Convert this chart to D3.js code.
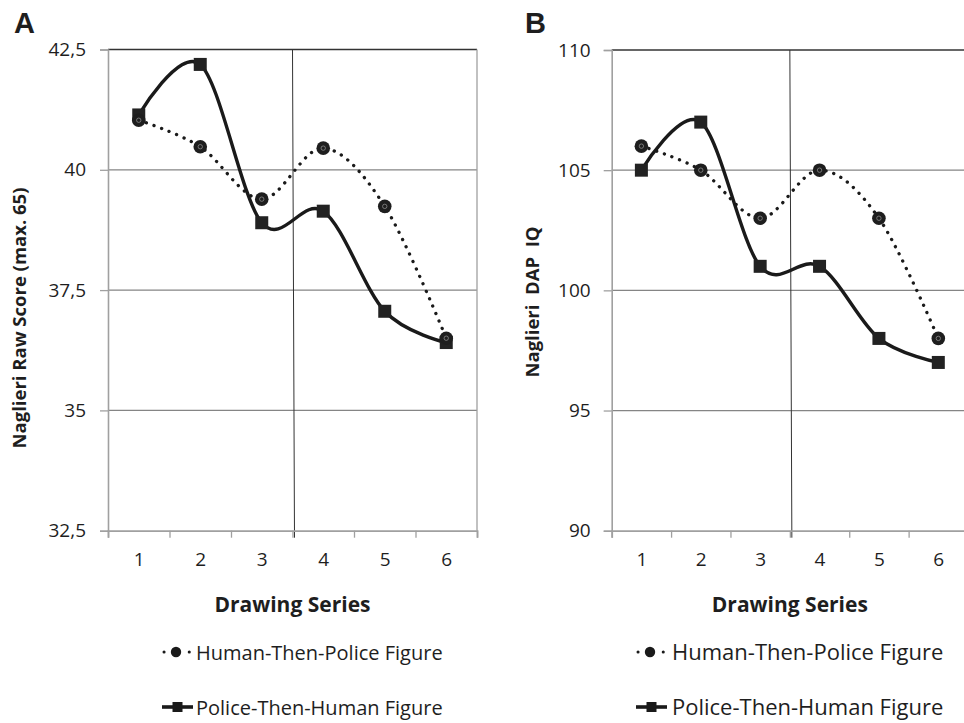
<!DOCTYPE html>
<html>
<head>
<meta charset="utf-8">
<script src="https://cdn.jsdelivr.net/npm/d3@7"></script>
<style>
  html, body { margin: 0; padding: 0; background: #fff; }
  svg { display: block; }
  text { font-family: "Open Sans", "Noto Sans", sans-serif; fill: #1e1e1e; }
</style>
</head>
<body>
<svg id="chart" width="964" height="723"></svg>
<script>
// ---------------- data ----------------
const categories = [1, 2, 3, 4, 5, 6];
const seriesNames = ["Human-Then-Police Figure", "Police-Then-Human Figure"];

// Panel A: Naglieri raw score
const rawHuman  = [41.03, 40.48, 39.39, 40.45, 39.24, 36.50];
const rawPolice = [41.14, 42.19, 38.90, 39.14, 37.06, 36.41];
const rawTicks  = [32.5, 35, 37.5, 40, 42.5];

// Panel B: Naglieri DAP IQ
const iqHuman  = [106, 105, 103, 105, 103, 98];
const iqPolice = [105, 107, 101, 101, 98, 97];
const iqTicks  = [90, 95, 100, 105, 110];

const panelLetters = ["A", "B"];
const yTitles = ["Naglieri Raw Score (max. 65)", "Naglieri  DAP  IQ"];
const xTitle = "Drawing Series";

// ---------------- drawing ----------------
const svg = d3.select("#chart");
const commaFmt = d => String(d).replace(".", ",");

function drawPanel(o) {
  const g = svg.append("g");
  const x = d3.scaleLinear().domain([categories[0] - 0.5, categories[categories.length - 1] + 0.5]).range([o.left, o.right]);
  const y = d3.scaleLinear().domain([o.yTicks[0], o.yTicks[o.yTicks.length - 1]]).range([o.bottom, o.top]);

  // horizontal gridlines
  g.append("g").selectAll("line").data(o.yTicks.slice(1, -1)).join("line")
    .attr("x1", o.left).attr("x2", o.right)
    .attr("y1", d => y(d)).attr("y2", d => y(d))
    .attr("stroke", "#858585").attr("stroke-width", 1.2);

  // top border
  g.append("line").attr("x1", o.left).attr("x2", o.right)
    .attr("y1", y(o.yTicks[o.yTicks.length - 1])).attr("y2", y(o.yTicks[o.yTicks.length - 1]))
    .attr("stroke", "#333").attr("stroke-width", 1.6);
  // right border
  g.append("line").attr("x1", o.right).attr("x2", o.right)
    .attr("y1", o.top).attr("y2", o.bottom)
    .attr("stroke", "#a0a0a0").attr("stroke-width", 1.3);

  // middle vertical gridline (between categories 3 and 4)
  g.append("line").attr("x1", x(3.5)).attr("x2", x(3.5) + 2)
    .attr("y1", o.top).attr("y2", o.bottom + 7)
    .attr("stroke", "#333").attr("stroke-width", 1);

  // y axis
  const ya = g.append("g").attr("transform", `translate(${o.left},0)`)
    .call(d3.axisLeft(y).tickValues(o.yTicks).tickSize(8).tickPadding(o.yPad).tickFormat(o.yFmt));
  ya.select(".domain").attr("stroke", "#a0a0a0").attr("stroke-width", 1.6);
  ya.selectAll(".tick line").attr("stroke", "#a0a0a0").attr("stroke-width", 1.3);
  ya.selectAll(".tick text").style("font-size", "19px").style("font-family", "'Open Sans', sans-serif").attr("fill", "#1e1e1e");

  // x axis boundaries ticks
  const bounds = categories.map(c => c - 0.5).concat([categories[categories.length - 1] + 0.5]);
  const xa = g.append("g").attr("transform", `translate(0,${o.bottom})`)
    .call(d3.axisBottom(x).tickValues(bounds).tickSize(7).tickFormat(""));
  xa.select(".domain").attr("stroke", "#a0a0a0").attr("stroke-width", 1.8);
  xa.selectAll(".tick line").attr("stroke", "#a0a0a0").attr("stroke-width", 1.3);
  const xl = g.append("g").attr("transform", `translate(0,${o.bottom})`)
    .call(d3.axisBottom(x).tickValues(categories).tickSize(0).tickPadding(22).tickFormat(d => d));
  xl.select(".domain").remove();
  xl.selectAll(".tick text").style("font-size", "19px").style("font-family", "'Open Sans', sans-serif").attr("fill", "#1e1e1e");

  // axis titles
  g.append("text").attr("x", (o.left + o.right) / 2).attr("y", 612)
    .attr("text-anchor", "middle").style("font-size", "21px").style("font-weight", "bold")
    .text(xTitle);
  g.append("text").attr("transform", `translate(${o.yTitleX},${o.yTitleY}) rotate(-90)`)
    .attr("text-anchor", "middle").style("font-size", "18.5px").style("font-weight", "bold")
    .style("white-space", "pre").attr("xml:space", "preserve")
    .text(o.yTitle);

  // panel letter
  g.append("text").attr("x", o.letterX).attr("y", 33)
    .style("font-family", "'Liberation Sans', Arial, sans-serif").style("font-size", "29px").style("font-weight", "bold")
    .attr("fill", "#111").text(o.letter);

  // lines
  const line = d3.line().x((d, i) => x(categories[i])).y(d => y(d)).curve(d3.curveCardinal.tension(0));
  g.append("path").datum(o.police).attr("d", line).attr("fill", "none")
    .attr("stroke", "#1a1a1a").attr("stroke-width", 3.4);
  g.append("path").datum(o.human).attr("d", line).attr("fill", "none")
    .attr("stroke", "#1a1a1a").attr("stroke-width", 3.3)
    .attr("stroke-linecap", "round").attr("stroke-dasharray", "0.1 8");

  // markers
  g.append("g").selectAll("rect").data(o.police).join("rect")
    .attr("x", (d, i) => x(categories[i]) - 6.5).attr("y", d => y(d) - 6.5)
    .attr("width", 13).attr("height", 13).attr("fill", "#222");
  const hm = g.append("g").selectAll("g").data(o.human).join("g")
    .attr("transform", (d, i) => `translate(${x(categories[i])},${y(d)})`);
  hm.append("circle").attr("r", 6.8).attr("fill", "#1e1e1e");
  hm.append("circle").attr("r", 2.2).attr("fill", "none").attr("stroke", "#8a8a8a").attr("stroke-width", 0.8);

  // legend
  const lg = g.append("g");
  const r1 = o.legY[0], r2 = o.legY[1];
  const sx = o.legSymX;
  // row 1 : dotted with circle
  lg.append("line").attr("x1", sx + 2).attr("x2", sx + 30).attr("y1", r1).attr("y2", r1)
    .attr("stroke", "#1a1a1a").attr("stroke-width", 3).attr("stroke-linecap", "round").attr("stroke-dasharray", "0.1 12.5");
  lg.append("circle").attr("cx", sx + 14).attr("cy", r1).attr("r", 5.2).attr("fill", "#1a1a1a");
  lg.append("text").attr("x", o.legTextX).attr("y", r1 + 7.5).style("font-size", o.legFont + "px").text(seriesNames[0]);
  // row 2 : solid with square
  lg.append("line").attr("x1", sx).attr("x2", sx + 31).attr("y1", r2).attr("y2", r2)
    .attr("stroke", "#1a1a1a").attr("stroke-width", 3.6);
  lg.append("rect").attr("x", sx + 10.5).attr("y", r2 - 5).attr("width", 10).attr("height", 10).attr("fill", "#1a1a1a");
  lg.append("text").attr("x", o.legTextX).attr("y", r2 + 7.5).style("font-size", o.legFont + "px").text(seriesNames[1]);
}

drawPanel({
  letter: panelLetters[0], letterX: 14,
  left: 108, right: 477, top: 49.5, bottom: 530.7,
  yTicks: rawTicks, yFmt: commaFmt, yPad: 14,
  human: rawHuman, police: rawPolice,
  yTitle: yTitles[0], yTitleX: 25.5, yTitleY: 318,
  legSymX: 162, legTextX: 196, legY: [652, 707], legFont: 20
});

drawPanel({
  letter: panelLetters[1], letterX: 525,
  left: 611.7, right: 968, top: 50, bottom: 530.7,
  yTicks: iqTicks, yFmt: d => d, yPad: 13,
  human: iqHuman, police: iqPolice,
  yTitle: yTitles[1], yTitleX: 539, yTitleY: 302,
  legSymX: 636, legTextX: 672, legY: [652, 707], legFont: 22
});
</script>
</body>
</html>
